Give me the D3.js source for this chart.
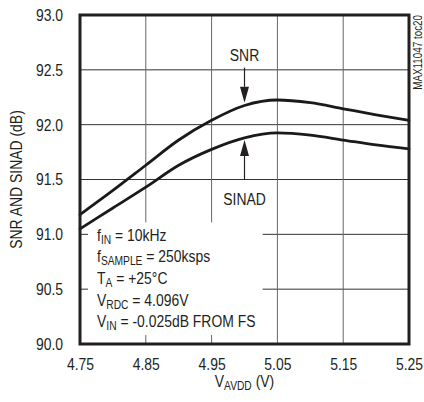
<!DOCTYPE html>
<html>
<head>
<meta charset="utf-8">
<script src="https://cdn.jsdelivr.net/npm/d3@7"></script>
<style>
  html, body { margin: 0; padding: 0; background: #fff; }
  svg { display: block; }
  text { font-family: "Liberation Sans", Arial, sans-serif; fill: #231f20; }
</style>
</head>
<body>
<script>
// ---- data ----
const vavdd = [4.75, 4.80, 4.85, 4.90, 4.95, 5.00, 5.05, 5.10, 5.15, 5.20, 5.25];
const snr   = [91.18, 91.40, 91.63, 91.86, 92.04, 92.175, 92.225, 92.2, 92.145, 92.09, 92.04];
const sinad = [91.05, 91.24, 91.43, 91.63, 91.775, 91.88, 91.925, 91.905, 91.86, 91.815, 91.78];
const xTicks = [4.75, 4.85, 4.95, 5.05, 5.15, 5.25];
const yTicks = [90.0, 90.5, 91.0, 91.5, 92.0, 92.5, 93.0];
const xTitle = ["V", "AVDD", " (V)"];
const yTitle = "SNR AND SINAD (dB)";
const watermark = "MAX11047 toc20";
const legendLines = [
  [["f", ""], ["IN", "sub"], [" = 10kHz", ""]],
  [["f", ""], ["SAMPLE", "sub"], [" = 250ksps", ""]],
  [["T", ""], ["A", "sub"], [" = +25°C", ""]],
  [["V", ""], ["RDC", "sub"], [" = 4.096V", ""]],
  [["V", ""], ["IN", "sub"], [" = -0.025dB FROM FS", ""]]
];
// annotations in data units: label, x, label baseline, arrow tail, arrow tip
const annotations = [
  { label: "SNR",   x: 5.00, labelY: 92.58, tail: 92.52, tip: 92.20 },
  { label: "SINAD", x: 5.00, labelY: 91.27, tail: 91.495, tip: 91.86 }
];

// ---- layout ----
const W = 424, H = 402;
const NARROW = 0.82;
const m = { left: 80, right: 15, top: 15, bottom: 58 };
const x = d3.scaleLinear().domain([4.75, 5.25]).range([m.left, W - m.right]);
const y = d3.scaleLinear().domain([90, 93]).range([H - m.bottom, m.top]);

const svg = d3.select("body").append("svg").attr("width", W).attr("height", H);

function narrowText(px, py, rot) {
  return `translate(${px},${py})${rot ? ` rotate(${rot})` : ""} scale(${NARROW},1)`;
}

// gridlines
const grid = svg.append("g");
grid.selectAll("line.h").data(yTicks.slice(1, -1)).join("line")
  .attr("x1", x(4.75)).attr("x2", x(5.25))
  .attr("y1", d => y(d)).attr("y2", d => y(d))
  .attr("stroke", "#333").attr("stroke-width", 1);
grid.selectAll("line.v").data(xTicks.slice(1, -1)).join("line")
  .attr("y1", y(90)).attr("y2", y(93))
  .attr("x1", d => x(d)).attr("x2", d => x(d))
  .attr("stroke", "#666").attr("stroke-width", 1);

// legend background box (covers grid)
const legendX = x(4.75) + 8, legendTop = y(91.0) - 12;
svg.append("rect")
  .attr("x", legendX).attr("y", legendTop)
  .attr("width", x(4.95) + 51 - legendX)
  .attr("height", y(90) - 9 - legendTop)
  .attr("fill", "#fff");

// curves
const line = d3.line().x(d => x(d[0])).y(d => y(d[1])).curve(d3.curveMonotoneX);
[snr, sinad].forEach(s => {
  svg.append("path").datum(vavdd.map((v, i) => [v, s[i]]))
    .attr("d", line).attr("fill", "none")
    .attr("stroke", "#1a1a1a").attr("stroke-width", 2.8)
    .attr("stroke-linecap", "round");
});

// annotations
annotations.forEach(a => {
  const ax = x(a.x), tail = y(a.tail), tip = y(a.tip);
  const dir = Math.sign(tip - tail);
  const headLen = 16, headW = 4.5;
  svg.append("line").attr("x1", ax).attr("x2", ax)
    .attr("y1", tail).attr("y2", tip - dir * headLen)
    .attr("stroke", "#231f20").attr("stroke-width", 1.2);
  svg.append("path")
    .attr("d", `M${ax},${tip} L${ax - headW},${tip - dir * headLen} L${ax + headW},${tip - dir * headLen} Z`)
    .attr("fill", "#231f20");
  svg.append("text").attr("transform", narrowText(ax, y(a.labelY)))
    .attr("text-anchor", "middle").attr("font-size", 17).text(a.label);
});

// frame
svg.append("rect")
  .attr("x", x(4.75)).attr("y", y(93))
  .attr("width", x(5.25) - x(4.75)).attr("height", y(90) - y(93))
  .attr("fill", "none").attr("stroke", "#231f20").attr("stroke-width", 3);

// axes (labels only)
const xAxis = svg.append("g").attr("transform", `translate(0,${y(90)})`)
  .call(d3.axisBottom(x).tickValues(xTicks).tickFormat(d3.format(".2f")).tickSize(0).tickPadding(14));
const yAxis = svg.append("g").attr("transform", `translate(${x(4.75)},0)`)
  .call(d3.axisLeft(y).tickValues(yTicks).tickFormat(d3.format(".1f")).tickSize(0).tickPadding(17));
[xAxis, yAxis].forEach(g => {
  g.select(".domain").remove();
  g.attr("font-family", null).attr("font-size", null);
  g.selectAll("text").attr("font-size", 17).attr("fill", "#231f20")
    .attr("transform", `scale(${NARROW},1)`);
});
yAxis.selectAll("text").attr("x", -17 / NARROW);

// axis titles
const xt = svg.append("text").attr("transform", narrowText((x(4.75) + x(5.25)) / 2, 387))
  .attr("text-anchor", "middle").attr("font-size", 17);
xt.append("tspan").text(xTitle[0]);
xt.append("tspan").attr("font-size", 12.5).attr("dy", 3).text(xTitle[1]);
xt.append("tspan").attr("dy", -3).text(xTitle[2]);

svg.append("text")
  .attr("transform", narrowText(22, (y(90) + y(93)) / 2, -90))
  .attr("text-anchor", "middle").attr("font-size", 17).text(yTitle);

// watermark
svg.append("text")
  .attr("transform", narrowText(421.5, y(93), -90))
  .attr("text-anchor", "end").attr("font-size", 12).text(watermark);

// legend text
legendLines.forEach((parts, i) => {
  const t = svg.append("text").attr("transform", narrowText(97, 240.7 + i * 21.65)).attr("font-size", 17);
  parts.forEach(([s, kind], j) => {
    const ts = t.append("tspan").text(s);
    if (kind === "sub") ts.attr("font-size", 12.5).attr("dy", 3);
    else if (j > 0 && parts[j - 1][1] === "sub") ts.attr("dy", -3);
  });
});
</script>
</body>
</html>
